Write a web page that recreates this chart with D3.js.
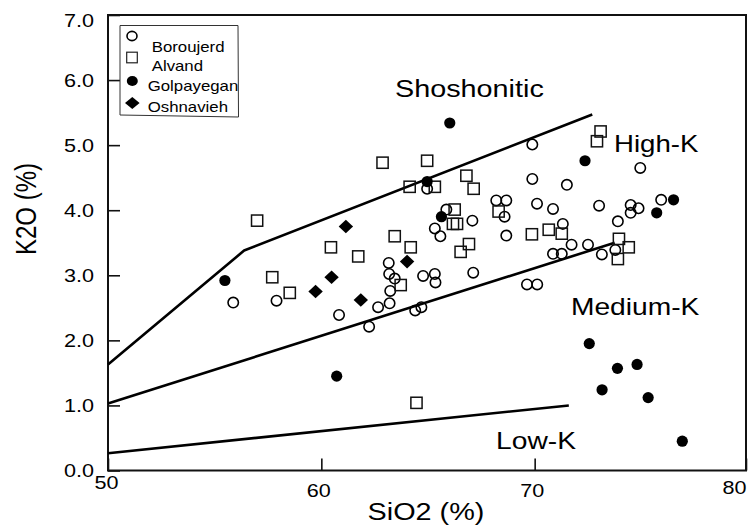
<!DOCTYPE html>
<html>
<head>
<meta charset="utf-8">
<script src="https://cdn.jsdelivr.net/npm/d3@7"></script>
<style>
  html, body { margin: 0; padding: 0; background: #fff; }
  svg { display: block; }
  text { font-family: "Liberation Sans", Arial, Helvetica, sans-serif; fill: #000; }
</style>
</head>
<body>
<svg id="chart" width="748" height="529"></svg>
<script>
// ---------- data ----------
const xTicks = [50, 60, 70, 80];
const xTickLabels = ["50", "60", "70", "80"];
const yTicks = [0, 1, 2, 3, 4, 5, 6, 7];
const yTickLabels = ["0.0", "1.0", "2.0", "3.0", "4.0", "5.0", "6.0", "7.0"];

const seriesNames = ["Boroujerd", "Alvand", "Golpayegan", "Oshnavieh"];

const boroujerd = [
  [55.87,2.58],[57.9,2.61],[60.83,2.39],[62.24,2.21],[62.66,2.51],[63.2,2.57],[63.23,2.76],
  [63.18,3.02],[63.44,2.95],[63.16,3.19],[64.4,2.46],[64.69,2.51],[64.77,2.99],[65.32,3.02],
  [65.35,2.89],[64.96,4.33],[65.86,4.01],[65.32,3.72],[65.58,3.60],[67.08,3.84],[67.12,3.04],
  [69.89,5.01],[74.95,4.65],[69.89,4.48],[71.51,4.39],[68.2,4.15],[68.67,4.15],[70.11,4.10],
  [70.86,4.02],[73.02,4.07],[74.5,4.08],[74.87,4.03],[74.5,3.96],[75.93,4.16],[68.59,3.90],
  [73.9,3.83],[71.32,3.79],[68.67,3.61],[71.73,3.47],[72.5,3.47],[73.78,3.39],[73.15,3.32],
  [70.86,3.33],[71.27,3.33],[69.64,2.86],[70.12,2.86]
];
const alvand = [
  [62.87,4.73],[64.96,4.76],[56.99,3.84],[64.14,4.36],[65.32,4.36],[66.8,4.53],[67.14,4.33],
  [66.25,4.01],[66.17,3.79],[66.36,3.79],[66.92,3.48],[66.53,3.36],[60.45,3.43],[61.73,3.29],
  [63.44,3.60],[64.19,3.43],[57.70,2.97],[58.52,2.73],[63.72,2.85],[73.09,5.21],[72.92,5.06],
  [68.31,3.98],[71.27,3.64],[70.66,3.70],[69.87,3.63],[73.95,3.56],[74.41,3.43],[73.9,3.25],
  [64.46,1.04]
];
const golpayegan = [
  [66.02,5.34],[64.96,4.44],[65.63,3.90],[55.48,2.92],[72.36,4.76],[76.51,4.16],[75.72,3.96],
  [72.56,1.95],[74.8,1.63],[73.88,1.57],[73.16,1.24],[75.32,1.12],[76.92,0.45],[60.72,1.45]
];
const oshnavieh = [
  [61.15,3.75],[64.02,3.21],[60.48,2.97],[59.73,2.75],[61.85,2.62]
];

// boundary lines (Peccerillo & Taylor style)
const shoshoniticLine = [[50,1.63],[56.38,3.38],[72.7,5.47]];
const highKLine = [[50,1.03],[73.75,3.5]];
const lowKLine = [[50,0.265],[71.6,1.0]];

const regionNames = ["Shoshonitic", "High-K", "Medium-K", "Low-K"];
const regionAnchors = [[63.45,5.735],[73.72,4.89],[71.70,2.39],[68.19,0.323]];

// ---------- layout ----------
const svg = d3.select("#chart");
const plotLeft = 108, plotRight = 746, plotTop = 15, plotBottom = 470.5;
const SX = 1.2; // horizontal stretch of the original lettering

const x = d3.scaleLinear().domain([50, 80]).range([plotLeft, 748]);
const y = d3.scaleLinear().domain([0, 7]).range([plotBottom, plotTop]);

// frame
svg.append("rect")
  .attr("x", plotLeft).attr("y", plotTop)
  .attr("width", plotRight - plotLeft).attr("height", plotBottom - plotTop)
  .attr("fill", "none").attr("stroke", "#111").attr("stroke-width", 2);

// y axis
const yAxis = svg.append("g").attr("transform", `translate(${plotLeft},0)`)
  .call(d3.axisLeft(y).tickValues(yTicks).tickSize(-12).tickSizeOuter(0)
    .tickFormat((d, i) => yTickLabels[i]));
yAxis.select(".domain").remove();
yAxis.selectAll(".tick line").attr("stroke", "#111").attr("stroke-width", 1.6);
yAxis.selectAll(".tick text")
  .attr("x", -14 / SX).attr("text-anchor", "end")
  .attr("transform", `scale(${SX},1)`)
  .attr("dy", d => d === 7 ? "0.62em" : "0.35em")
  .style("font-size", "18px");

// x axis
const xAxis = svg.append("g").attr("transform", `translate(0,${plotBottom})`)
  .call(d3.axisBottom(x).tickValues(xTicks).tickSize(-12).tickSizeOuter(0)
    .tickPadding(14).tickFormat((d, i) => xTickLabels[i]));
xAxis.select(".domain").remove();
xAxis.selectAll(".tick line").attr("stroke", "#111").attr("stroke-width", 1.6);
xAxis.selectAll(".tick text")
  .attr("transform", `scale(${SX},1)`)
  .style("font-size", "18px")
  .attr("x", d => d === 80 ? -2 / SX : (d === 50 ? -2 / SX : -3 / SX))
  .attr("text-anchor", d => d === 80 ? "end" : "middle")
  .attr("y", d => d === 50 ? 6 : (d === 80 ? 11 : 14));

// axis titles
svg.append("text")
  .attr("transform", `translate(${(plotLeft + plotRight) / 2 - 1},520) scale(${SX},1)`)
  .attr("text-anchor", "middle").style("font-size", "24px")
  .text("SiO2 (%)");
svg.append("text")
  .attr("transform", `translate(36,209) scale(${SX},1) rotate(-90)`)
  .attr("text-anchor", "middle").style("font-size", "24px")
  .text("K2O (%)");

// boundary lines
const line = d3.line().x(d => x(d[0])).y(d => y(d[1]));
[shoshoniticLine, highKLine, lowKLine].forEach(l => {
  svg.append("path").attr("d", line(l))
    .attr("fill", "none").attr("stroke", "#000").attr("stroke-width", 2.6)
    .attr("stroke-linejoin", "round");
});

// region labels
const regionSizes = [24, 23, 23.5, 23.5];
regionNames.forEach((name, i) => {
  svg.append("text")
    .attr("transform", `translate(${x(regionAnchors[i][0])},${y(regionAnchors[i][1])}) scale(${SX},1)`)
    .style("font-size", regionSizes[i] + "px")
    .text(name);
});

// symbols
function drawSymbol(g, kind) {
  if (kind === 0) {
    g.append("circle").attr("r", 5.2).attr("fill", "none")
      .attr("stroke", "#000").attr("stroke-width", 1.6);
  } else if (kind === 1) {
    g.append("rect").attr("x", -5.6).attr("y", -5.6).attr("width", 11.2).attr("height", 11.2)
      .attr("fill", "none").attr("stroke", "#111").attr("stroke-width", 1.5);
  } else if (kind === 2) {
    g.append("circle").attr("r", 5.6).attr("fill", "#000");
  } else {
    g.append("path").attr("d", "M0,-6.8L7.2,0L0,6.8L-7.2,0Z").attr("fill", "#000");
  }
}

const allSeries = [boroujerd, alvand, golpayegan, oshnavieh];
allSeries.forEach((data, k) => {
  const grp = svg.append("g").attr("class", "series-" + k);
  data.forEach(d => {
    const g = grp.append("g").attr("transform", `translate(${x(d[0])},${y(d[1])})`);
    drawSymbol(g, k);
  });
});

// legend
const legend = svg.append("g");
legend.append("path")
  .attr("d", "M120,25.5L238,25.5L238.5,117L120,115Z")
  .attr("fill", "#fff").attr("stroke", "#333").attr("stroke-width", 1);
const legSym = [[132, 36], [132, 57.5], [132.3, 81], [132.3, 103]];
const legText = [[151.7, 51.5], [151.7, 70.5], [147.7, 90.5], [147.7, 111.5]];
seriesNames.forEach((name, i) => {
  const g = legend.append("g").attr("transform", `translate(${legSym[i][0]},${legSym[i][1]})`);
  if (i === 0) {
    g.append("ellipse").attr("rx", 5).attr("ry", 4.6).attr("fill", "none")
      .attr("stroke", "#000").attr("stroke-width", 1.6);
  } else if (i === 1) {
    g.append("rect").attr("x", -5.3).attr("y", -5.3).attr("width", 10.6).attr("height", 10.6)
      .attr("fill", "none").attr("stroke", "#222").attr("stroke-width", 1.2);
  } else if (i === 2) {
    g.append("ellipse").attr("rx", 5.5).attr("ry", 5).attr("fill", "#000");
  } else {
    g.append("path").attr("d", "M0,-6L7.3,0L0,6L-7.3,0Z").attr("fill", "#000");
  }
  legend.append("text")
    .attr("transform", `translate(${legText[i][0]},${legText[i][1]}) scale(${SX},1)`)
    .style("font-size", "14px")
    .text(name);
});
</script>
</body>
</html>
